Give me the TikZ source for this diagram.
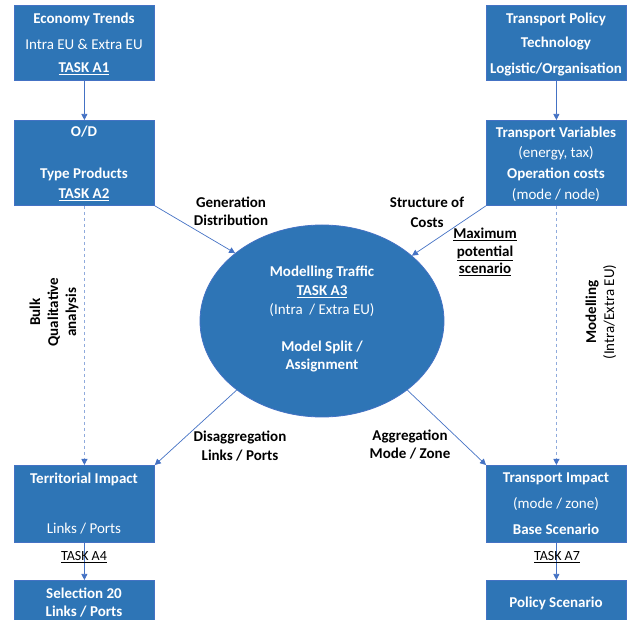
\documentclass[tikz,border=0pt]{standalone}
\usepackage{fontspec}
\setmainfont{Carlito}
\usetikzlibrary{shapes.geometric,arrows.meta}
\definecolor{boxblue}{HTML}{2E75B6}
\definecolor{edgeblue}{HTML}{4472C4}
\definecolor{dashblue}{HTML}{8FAADC}
\tikzset{
  box/.style={draw=edgeblue, line width=0.8pt, fill=boxblue, minimum width=140pt, anchor=north west, inner sep=0pt},
  wt/.style={text=white, font=\fontsize{15}{17}\selectfont, inner sep=0pt, anchor=center},
  wtb/.style={wt, font=\fontsize{15}{17}\selectfont\bfseries},
  lbl/.style={text=black, font=\fontsize{15}{18}\selectfont\bfseries, align=center, inner sep=0pt},
  tasklbl/.style={text=black, font=\fontsize{14}{16}\selectfont, inner sep=0pt},
  arr/.style={draw=edgeblue, line width=0.7pt, -{Triangle[width=6pt,length=6pt]}},
  darr/.style={draw=dashblue, line width=0.9pt, dash pattern=on 3pt off 3pt, -{Triangle[width=6pt,length=6pt,color=edgeblue]}},
}
\begin{document}
\begin{tikzpicture}[x=1pt,y=-1pt]
\useasboundingbox (0,0) rectangle (633,620);
% boxes
\node[box, minimum height=75pt] (a1) at (14,5) {};
\node[box, minimum height=75pt] (tp) at (486,5) {};
\node[box, minimum height=85pt] (a2) at (14,120) {};
\node[box, minimum height=85pt] (tv) at (486,120) {};
\node[box, minimum height=77pt] (ti) at (14,465) {};
\node[box, minimum height=77pt] (tr) at (486,465) {};
\node[box, minimum height=45pt] (se) at (14,580) {};
\node[box, minimum height=45pt] (ps) at (486,580) {};
\node[draw=edgeblue, fill=boxblue, line width=0.8pt, ellipse, minimum width=244pt, minimum height=192pt, inner sep=0pt] (el) at (322,321) {};
% box texts
\node[wtb] (a1t1) at (84,19) {Economy Trends};
\node[wt] (a1t2) at (84,44) {Intra EU \& Extra EU};
\node[wtb] (a1t3) at (84,69) {\underline{TASK A1}};
\node[wtb] (tpt1) at (556,19) {Transport Policy};
\node[wtb] (tpt2) at (556,44) {Technology};
\node[wtb] (tpt3) at (556,70) {Logistic/Organisation};
\node[wtb] (a2t1) at (84,132) {O/D};
\node[wtb] (a2t2) at (84,174) {Type Products};
\node[wtb] (a2t3) at (84,195) {\underline{TASK A2}};
\node[wtb] (tvt1) at (556,133) {Transport Variables};
\node[wt] (tvt2) at (556,153) {(energy, tax)};
\node[wtb] (tvt3) at (556,174) {Operation costs};
\node[wt] (tvt4) at (556,195) {(mode / node)};
\node[wtb] (elt1) at (322,272) {Modelling Traffic};
\node[wtb] (elt2) at (322,292) {\underline{TASK A3}};
\node[wt] (elt3) at (322,310) {(Intra~ / Extra EU)};
\node[wtb] (elt4) at (322,347) {Model Split /};
\node[wtb] (elt5) at (322,366) {Assignment};
\node[wtb] (tit1) at (84,479) {Territorial Impact};
\node[wt] (tit2) at (84,529) {Links / Ports};
\node[wtb] (trt1) at (556,479) {Transport Impact};
\node[wt] (trt2) at (556,504) {(mode / zone)};
\node[wtb] (trt3) at (556,529) {Base Scenario};
\node[wtb] (set1) at (84,593) {Selection 20};
\node[wtb] (set2) at (84,612) {Links / Ports};
\node[wtb] (pst1) at (556,603) {Policy Scenario};
% connectors
\draw[arr] (a1.south) -- (a2.north);
\draw[arr] (tp.south) -- (tv.north);
\draw[arr] (ti.south) -- (se.north);
\draw[arr] (tr.south) -- (ps.north);
\draw[darr] (a2.south) -- (ti.north);
\draw[darr] (tv.south) -- (tr.north);
\draw[arr] (a2.south east) -- (el.142);
\draw[arr] (tv.south west) -- (el.36);
\draw[arr] (el.219) -- (ti.north east);
\draw[arr] (el.321) -- (tr.north west);
% labels
\node[lbl] (gen) at (231,211) {Generation\\Distribution};
\node[lbl, font=\fontsize{15}{20}\selectfont\bfseries] (soc) at (427,212) {Structure of\\Costs};
\node[lbl, font=\fontsize{15}{17.5}\selectfont\bfseries] (mps) at (485,252) {\underline{Maximum}\\\underline{potential}\\\underline{scenario}};
\node[lbl, font=\fontsize{15}{19}\selectfont\bfseries] (dis) at (240,446) {Disaggregation\\Links / Ports};
\node[lbl] (agg) at (410,445) {Aggregation\\Mode / Zone};
\node[lbl, rotate=90] (bulk) at (54,312) {Bulk\\Qualitative\\analysis};
\node[lbl, rotate=90, font=\fontsize{15}{18}\selectfont] (mod) at (601,312) {\textbf{Modelling}\\(Intra/Extra EU)};
\node[tasklbl] (ta4) at (84,557) {\underline{TASK A4}};
\node[tasklbl] (ta7) at (557,557) {\underline{TASK A7}};
\end{tikzpicture}
\end{document}
